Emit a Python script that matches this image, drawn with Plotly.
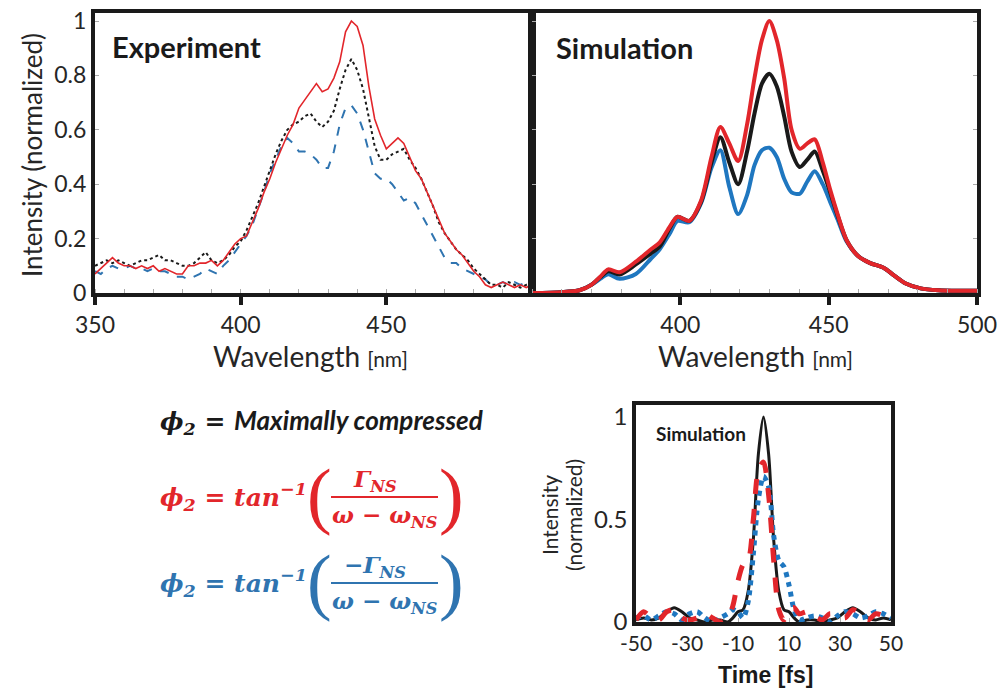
import plotly.graph_objects as go

# ---------------- data ----------------
wl_exp = list(range(350, 501, 2))
exp_red = [0.07, 0.09, 0.11, 0.13, 0.11, 0.10, 0.10, 0.09, 0.10, 0.09, 0.10, 0.08, 0.09, 0.08, 0.07, 0.07,
           0.10, 0.10, 0.11, 0.11, 0.12, 0.10, 0.12, 0.15, 0.18, 0.20, 0.21, 0.26, 0.31, 0.37, 0.42, 0.48,
           0.53, 0.58, 0.62, 0.68, 0.71, 0.74, 0.77, 0.74, 0.75, 0.79, 0.85, 0.96, 1.00, 0.98, 0.91, 0.76,
           0.64, 0.58, 0.53, 0.55, 0.57, 0.55, 0.50, 0.45, 0.42, 0.37, 0.32, 0.27, 0.22, 0.19, 0.16, 0.14,
           0.11, 0.08, 0.06, 0.03, 0.02, 0.03, 0.04, 0.03, 0.02, 0.03, 0.02, 0.03]
exp_black = [0.10, 0.11, 0.12, 0.11, 0.12, 0.11, 0.10, 0.11, 0.12, 0.12, 0.13, 0.14, 0.12, 0.12, 0.11, 0.10,
             0.10, 0.11, 0.13, 0.15, 0.12, 0.11, 0.12, 0.14, 0.17, 0.19, 0.23, 0.28, 0.33, 0.39, 0.45, 0.51,
             0.56, 0.60, 0.62, 0.63, 0.65, 0.66, 0.63, 0.61, 0.63, 0.67, 0.75, 0.82, 0.86, 0.82, 0.75, 0.64,
             0.54, 0.49, 0.49, 0.51, 0.52, 0.53, 0.49, 0.46, 0.42, 0.37, 0.32, 0.26, 0.22, 0.19, 0.16, 0.14,
             0.12, 0.09, 0.07, 0.05, 0.03, 0.03, 0.02, 0.04, 0.03, 0.02, 0.03, 0.04]
exp_blue = [0.08, 0.07, 0.09, 0.10, 0.09, 0.09, 0.10, 0.09, 0.09, 0.08, 0.09, 0.08, 0.08, 0.07, 0.06, 0.06,
            0.05, 0.06, 0.07, 0.09, 0.08, 0.07, 0.10, 0.12, 0.15, 0.18, 0.21, 0.25, 0.31, 0.37, 0.44, 0.49,
            0.54, 0.57, 0.55, 0.52, 0.52, 0.51, 0.49, 0.46, 0.46, 0.52, 0.62, 0.68, 0.69, 0.66, 0.60, 0.52,
            0.44, 0.42, 0.42, 0.40, 0.37, 0.34, 0.35, 0.33, 0.29, 0.25, 0.21, 0.17, 0.13, 0.11, 0.11, 0.09,
            0.08, 0.07, 0.06, 0.05, 0.03, 0.03, 0.04, 0.03, 0.04, 0.03, 0.04, 0.02]

wl_sim = [350, 360, 366, 370, 373, 375.7, 379.5, 385, 390, 393, 396.5, 399, 403, 407, 410.5, 413.5, 416.5,
          419.5, 422.5, 425, 427.5, 430, 432.5, 435, 437.5, 440.3, 442.8, 445.3, 448, 450.5, 453, 456, 460,
          464, 468.5, 472, 476, 481, 487, 494, 500]
sim_red = [0.0, 0.003, 0.01, 0.03, 0.06, 0.087, 0.076, 0.115, 0.16, 0.185, 0.245, 0.28, 0.265, 0.34, 0.50,
           0.61, 0.55, 0.485, 0.62, 0.79, 0.93, 1.0, 0.93, 0.79, 0.60, 0.53, 0.55, 0.565, 0.48, 0.38, 0.29,
           0.195, 0.135, 0.11, 0.093, 0.065, 0.035, 0.017, 0.01, 0.008, 0.008]
sim_black = [0.0, 0.003, 0.01, 0.03, 0.058, 0.08, 0.068, 0.105, 0.145, 0.17, 0.24, 0.28, 0.265, 0.335, 0.48,
             0.573, 0.48, 0.40, 0.52, 0.66, 0.77, 0.806, 0.76, 0.65, 0.52, 0.463, 0.49, 0.52, 0.45, 0.37, 0.285,
             0.195, 0.135, 0.11, 0.093, 0.065, 0.035, 0.017, 0.01, 0.008, 0.008]
sim_blue = [0.0, 0.003, 0.01, 0.03, 0.052, 0.069, 0.052, 0.07, 0.125, 0.16, 0.22, 0.265, 0.26, 0.33, 0.46,
            0.525, 0.39, 0.29, 0.36, 0.47, 0.525, 0.534, 0.50, 0.42, 0.37, 0.365, 0.41, 0.448, 0.40, 0.335, 0.27,
            0.19, 0.135, 0.11, 0.093, 0.065, 0.035, 0.017, 0.01, 0.008, 0.008]

t_fs = [-50, -47, -44, -41, -38, -35, -32, -29, -26, -23, -20, -17, -14, -12, -10, -8, -6, -4, -2, 0,
        2, 4, 6, 8, 10, 12, 14, 17, 20, 23, 26, 29, 32, 35, 38, 41, 44, 47, 50]
t_black = [0.01, 0.02, 0.01, 0.02, 0.05, 0.07, 0.05, 0.02, 0.01, 0.0, 0.01, 0.01, 0.0, 0.02, 0.05, 0.06, 0.15,
           0.40, 0.82, 1.0, 0.82, 0.40, 0.15, 0.06, 0.05, 0.02, 0.0, 0.01, 0.01, 0.0, 0.01, 0.02, 0.05, 0.07,
           0.05, 0.02, 0.01, 0.02, 0.01]
t_red = [0.01, 0.05, 0.02, 0.01, 0.05, 0.06, 0.02, 0.01, 0.02, 0.04, 0.02, 0.0, 0.02, 0.08, 0.20, 0.28, 0.30,
         0.50, 0.74, 0.78, 0.62, 0.30, 0.06, 0.01, 0.06, 0.07, 0.04, 0.05, 0.03, 0.01, 0.04, 0.03, 0.02, 0.06,
         0.04, 0.01, 0.04, 0.03, 0.01]
t_blue = [0.02, 0.03, 0.01, 0.03, 0.05, 0.04, 0.01, 0.04, 0.05, 0.02, 0.0, 0.02, 0.04, 0.06, 0.05, 0.02, 0.10,
          0.33, 0.60, 0.71, 0.66, 0.42, 0.30, 0.27, 0.18, 0.06, 0.01, 0.02, 0.03, 0.02, 0.0, 0.03, 0.05, 0.04,
          0.02, 0.03, 0.05, 0.04, 0.02]

exp_ticks = [350, 400, 450]
sim_ticks = [400, 450, 500]
time_ticks = [-50, -30, -10, 10, 30, 50]
time_ticktext = ["-50", "-30", "-10", "10", "30", "50"]

RED = "#e2262b"
BLACK = "#1a1a1a"
BLUE = "#1f77c0"
BLUE_EXP = "#2f74b0"
TXT = "#262626"
FONT = "Lato"

W, H = 1002, 688
def px(x):
    return x / W
def py(y):
    return 1 - y / H

fig = go.Figure()

# Experiment
fig.add_trace(go.Scatter(x=wl_exp, y=exp_blue, mode="lines", line=dict(color=BLUE_EXP, width=2, dash="dash"),
                         xaxis="x", yaxis="y"))
fig.add_trace(go.Scatter(x=wl_exp, y=exp_black, mode="lines", line=dict(color=BLACK, width=2, dash="dot"),
                         xaxis="x", yaxis="y"))
fig.add_trace(go.Scatter(x=wl_exp, y=exp_red, mode="lines", line=dict(color=RED, width=1.6),
                         xaxis="x", yaxis="y"))
# Simulation
for ys, c in [(sim_blue, BLUE), (sim_black, BLACK), (sim_red, RED)]:
    fig.add_trace(go.Scatter(x=wl_sim, y=ys, mode="lines", line=dict(color=c, width=4, shape="spline", smoothing=0.8),
                             xaxis="x2", yaxis="y2"))
# Time
fig.add_trace(go.Scatter(x=t_fs, y=t_black, mode="lines", line=dict(color=BLACK, width=3, shape="spline", smoothing=0.8),
                         xaxis="x3", yaxis="y3"))
fig.add_trace(go.Scatter(x=t_fs, y=t_blue, mode="lines", line=dict(color=BLUE, width=5, dash="dot", shape="spline", smoothing=0.8),
                         xaxis="x3", yaxis="y3"))
fig.add_trace(go.Scatter(x=t_fs, y=t_red, mode="lines", line=dict(color=RED, width=5, dash="dash", shape="spline", smoothing=0.8),
                         xaxis="x3", yaxis="y3"))

tickfont = dict(family=FONT, size=23, color=TXT)
common_x = dict(showline=True, linewidth=4, linecolor=BLACK, mirror=True, showgrid=False, zeroline=False,
                ticks="outside", ticklen=8, tickwidth=4, tickcolor=BLACK, tickfont=tickfont, automargin=False,
                minor=dict(ticks="inside", ticklen=4, tickwidth=1, tickcolor="#aaaaaa", dtick=10))
common_y = dict(showline=True, linewidth=4, linecolor=BLACK, mirror="ticks", showgrid=False, zeroline=False,
                ticks="inside", ticklen=4, tickwidth=1, tickcolor="#aaaaaa", tickfont=tickfont, automargin=False)

y_dom = [py(293), py(13)]
y_rng = [0, 280 / 272]

fig.update_layout(
    width=W, height=H, margin=dict(l=0, r=0, t=0, b=0, autoexpand=False),
    paper_bgcolor="white", plot_bgcolor="white", showlegend=False,
    xaxis=dict(domain=[px(95), px(532)], range=[350, 500], tickvals=exp_ticks, anchor="y", **common_x),
    yaxis=dict(domain=y_dom, range=y_rng, tickvals=[0, 0.2, 0.4, 0.6, 0.8, 1],
               ticktext=["0", "0.2", "0.4", "0.6", "0.8", "1"], anchor="x", **common_y),
    xaxis2=dict(domain=[px(532), px(977)], range=[350, 500], tickvals=sim_ticks, anchor="y2", **common_x),
    yaxis2=dict(domain=y_dom, range=y_rng, tickvals=[0, 0.2, 0.4, 0.6, 0.8, 1], showticklabels=False,
                anchor="x2", **common_y),
    xaxis3=dict(domain=[px(636), px(891)], range=[-50, 50], tickvals=time_ticks, ticktext=time_ticktext,
                anchor="y3", automargin=False,
                showline=True, linewidth=3.5, linecolor=BLACK, mirror=True, showgrid=False, zeroline=False,
                ticks="inside", ticklen=4, tickwidth=1, tickcolor="#aaaaaa",
                tickfont=dict(family=FONT, size=21, color=TXT)),
    yaxis3=dict(domain=[py(622), py(405)], range=[0, 217 / 205], tickvals=[0, 0.5, 1],
                ticktext=["0", "0.5", "1"], anchor="x3", automargin=False,
                showline=True, linewidth=3.5, linecolor=BLACK, mirror=True, showgrid=False, zeroline=False,
                ticks="", tickfont=dict(family=FONT, size=24, color=TXT)),
)

ann = []
def A(text, x, y, size, color=TXT, family=FONT, xanchor="center", yanchor="middle", angle=0):
    ann.append(dict(text=text, x=px(x), y=py(y), xref="paper", yref="paper", showarrow=False,
                    xanchor=xanchor, yanchor=yanchor, textangle=angle,
                    font=dict(family=family, size=size, color=color)))

A("<b>Experiment</b>", 110, 46, 29, color=BLACK, xanchor="left")
A("<b>Simulation</b>", 554, 47, 29, color=BLACK, xanchor="left")
A("Intensity (normalized)", 32, 155, 26, angle=-90)
A("Wavelength <span style='font-size:21px'>[nm]</span>", 310, 356, 28)
A("Wavelength <span style='font-size:21px'>[nm]</span>", 755, 356, 28)
A("<b>Simulation</b>", 654, 433, 19, color=BLACK, xanchor="left")
A("Intensity", 549, 515, 21, angle=-90)
A("(normalized)", 573, 515, 21, angle=-90)
A("<b>Time [fs]</b>", 765, 675, 23, color=BLACK, family="Liberation Sans")

MATH = "DejaVu Serif"
A("<b><i>ϕ<sub>2</sub> = </i></b><span style='font-family:Lato;font-size:26px'><b><i>Maximally compressed</i></b></span>",
  158, 421, 25, color=BLACK, family=MATH, xanchor="left")

for col, y0, num in [(RED, 497, "Γ<sub>NS</sub>"), (BLUE_EXP, 583, "−Γ<sub>NS</sub>")]:
    A("<b><i>ϕ<sub>2</sub> = tan<sup>−1</sup></i></b>", 158, y0, 25, color=col, family=MATH, xanchor="left")
    A("(", 319, y0 - 2, 74, color=col, family="Liberation Serif")
    A(")", 451, y0 - 2, 74, color=col, family="Liberation Serif")
    A("<b><i>" + num + "</i></b>", 375, y0 - 17, 23, color=col, family=MATH)
    A("<b><i>ω − ω<sub>NS</sub></i></b>", 384, y0 + 19, 23, color=col, family=MATH)
    fig.add_shape(type="line", xref="paper", yref="paper", x0=px(331), x1=px(438), y0=py(y0), y1=py(y0),
                  line=dict(color=col, width=2))

fig.update_layout(annotations=ann)
fig.write_html("out.html", config={"displayModeBar": False},
               post_script="document.body.style.margin='0';document.body.style.overflow='hidden';")
